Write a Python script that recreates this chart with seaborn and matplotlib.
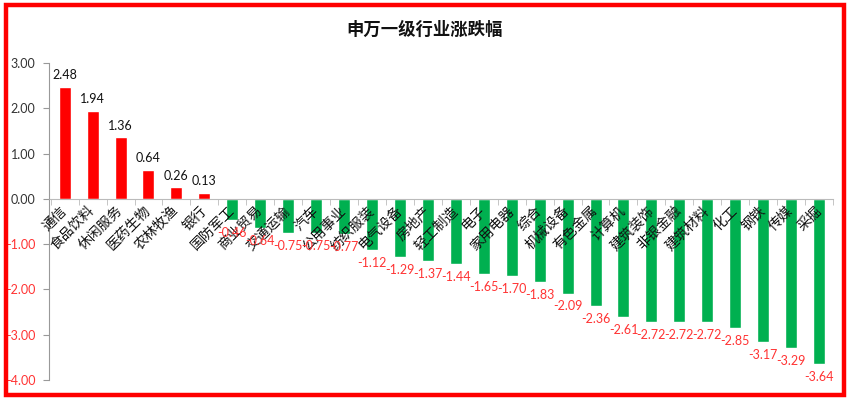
import numpy as np
import pandas as pd
import matplotlib
matplotlib.use("Agg")
import matplotlib.pyplot as plt
from matplotlib.patches import Rectangle
import seaborn as sns

industries = ["通信", "食品饮料", "休闲服务", "医药生物", "农林牧渔", "银行", "国防军工",
              "商业贸易", "交通运输", "汽车", "公用事业", "纺织服装", "电气设备", "房地产",
              "轻工制造", "电子", "家用电器", "综合", "机械设备", "有色金属", "计算机",
              "建筑装饰", "非银金融", "建筑材料", "化工", "钢铁", "传媒", "采掘"]
changes = [2.48, 1.94, 1.36, 0.64, 0.26, 0.13, -0.46,
           -0.64, -0.75, -0.75, -0.77, -1.12, -1.29, -1.37,
           -1.44, -1.65, -1.70, -1.83, -2.09, -2.36, -2.61,
           -2.72, -2.72, -2.72, -2.85, -3.17, -3.29, -3.64]
yticks = [3, 2, 1, 0, -1, -2, -3, -4]

sns.set_style("white")
plt.rcParams['font.family'] = ['Noto Sans CJK SC', 'DejaVu Sans']

df = pd.DataFrame({"行业": industries, "涨跌幅": changes})
df["方向"] = np.where(df["涨跌幅"] >= 0, "up", "down")

fig = plt.figure(figsize=(8.5, 4), dpi=100)
ax = fig.add_axes([0.058, 0.05, 0.922, 0.7925])

sns.barplot(data=df, x="行业", y="涨跌幅", hue="方向", order=industries,
            palette={"up": "#FF0000", "down": "#00B050"}, dodge=False,
            width=0.43, legend=False, ax=ax, saturation=1)
ax.set_axisbelow(False)

ax.set_ylim(-4, 3)
ax.set_xlim(-0.55, 27.5)
ax.set_yticks(yticks)
ax.set_yticklabels([f"{v:.2f}" for v in yticks], fontsize=9, family="Lato")
for lab, v in zip(ax.get_yticklabels(), yticks):
    lab.set_color("#FF3333" if v < 0 else "#333333")
ax.set_xlabel("")
ax.set_ylabel("")

for s in ["top", "right"]:
    ax.spines[s].set_visible(False)
ax.spines["left"].set_color("#999999")
ax.spines["bottom"].set_position(("data", 0))
ax.spines["bottom"].set_color("#BBBBBB")
ax.tick_params(axis="y", length=4, color="#999999", left=True, pad=6)

# category labels hanging under the zero line, drawn over the bars
ax.set_xticks(range(len(industries)))
ax.set_xticklabels(industries, rotation=45, ha="right", va="center",
                   rotation_mode="anchor", fontsize=10, color="#111111",
                   fontweight="medium")
ax.tick_params(axis="x", length=0, pad=7)
ax.set_xticks(np.arange(-0.5, len(industries), 1), minor=True)
ax.tick_params(axis="x", which="minor", length=4, color="#BBBBBB", bottom=True)

for i, v in enumerate(changes):
    if v >= 0:
        ax.annotate(f"{v:.2f}", (i, v), xytext=(0, 4), textcoords="offset points",
                    ha="center", va="bottom", fontsize=9, color="#111111",
                    family="Lato")
    else:
        ax.annotate(f"{v:.2f}", (i, v), xytext=(0, -5), textcoords="offset points",
                    ha="center", va="top", fontsize=9, color="#FF3333",
                    family="Lato")

fig.text(0.5, 0.925, "申万一级行业涨跌幅", ha="center", va="center",
         fontsize=12.5, fontweight="bold", color="#111111")

fig.patches.append(Rectangle((0.0065, 0.012), 0.987, 0.976, transform=fig.transFigure,
                             fill=False, edgecolor="#FF0000", linewidth=3.2))

fig.savefig("out.png", dpi=100)
